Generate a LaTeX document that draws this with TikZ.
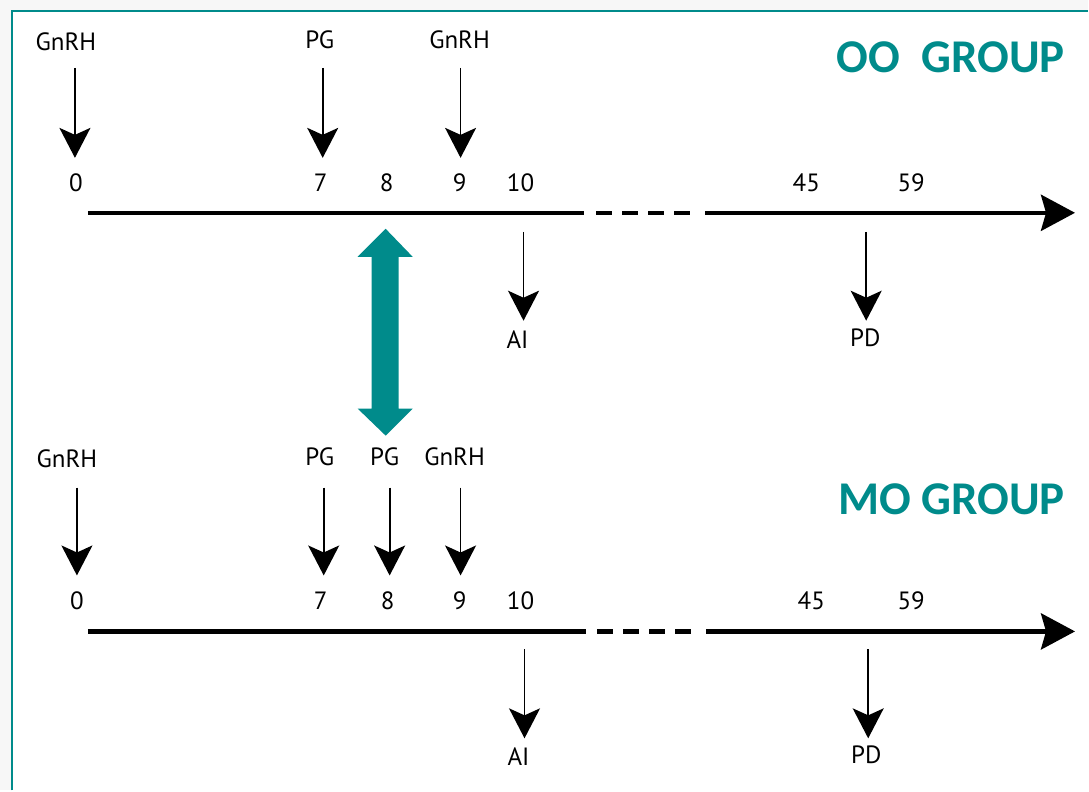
\documentclass[tikz,border=0pt]{standalone}
\usepackage{fontspec}
\setmainfont{PT Sans}
\newfontfamily\groupfont{Carlito}
\usetikzlibrary{arrows.meta}
\definecolor{teal1}{RGB}{0,139,139}
\definecolor{pagegray}{RGB}{247,247,247}
\begin{document}
\begin{tikzpicture}[x=1pt,y=-1pt,
  lbl/.style={inner sep=0pt,font=\fontsize{25}{28}\selectfont},
  grp/.style={inner sep=0pt,text=teal1,font=\groupfont\bfseries\fontsize{47}{52}\selectfont},
  dose/.style={line width=1.8pt,-{Stealth[length=30pt,width=31pt,inset=7pt]}},
  axis/.style={line width=4.5pt},
  axishead/.style={line width=4.5pt,-{Stealth[length=34pt,width=36pt,inset=5pt]}},
  gapdash/.style={line width=4.5pt,dash pattern=on 16pt off 10pt}]
% page and frame
\fill[pagegray] (0,0) rectangle (1089,791);
\fill[white] (12,11) rectangle (1089,791);
\draw[teal1,line width=2pt] (12,791) -- (12,11) -- (1089,11);
\useasboundingbox (0,0) rectangle (1089,791);

% ---------- OO group ----------
\node[grp,anchor=east] (ooTitle) at (1066,57) {OO\ \ GROUP};
\node[lbl] (oG0) at (66,42) {GnRH};
\node[lbl] (oP7) at (320,40) {PG};
\node[lbl] (oG9) at (460,40) {GnRH};
\foreach \n/\x in {0/76,7/321,8/387,9/460,10/521,45/807,59/912}
  \node[lbl] (oN\n) at (\x,183) {\n};
\coordinate (oA0s) at (75,68);  \coordinate (oA0e) at (75,158);
\coordinate (oA7s) at (323,68); \coordinate (oA7e) at (323,158);
\coordinate (oA9s) at (461,68); \coordinate (oA9e) at (461,158);
\draw[dose] (oA0s) -- (oA0e);
\draw[dose] (oA7s) -- (oA7e);
\draw[dose] (oA9s) -- (oA9e);
\coordinate (oL0) at (88,213);  \coordinate (oL1) at (585,213);
\coordinate (oL2) at (597,213); \coordinate (oL3) at (697,213);
\coordinate (oL4) at (706,213); \coordinate (oL5) at (1076,213);
\draw[axis] (oL0) -- (oL1);
\draw[gapdash] (oL2) -- (oL3);
\draw[axishead] (oL4) -- (oL5);
\node[lbl] (oAI) at (518,340) {AI};
\node[lbl] (oPD) at (866,338) {PD};
\coordinate (oAIs) at (524,232); \coordinate (oAIe) at (524,321);
\coordinate (oPDs) at (867,232); \coordinate (oPDe) at (867,321);
\draw[dose] (oAIs) -- (oAIe);
\draw[dose] (oPDs) -- (oPDe);

% ---------- link between groups ----------
\fill[teal1] (386,229) -- (413,257) -- (399,257) -- (399,409) -- (413,409)
  -- (386,436) -- (358,409) -- (372,409) -- (372,257) -- (358,257) -- cycle;

% ---------- MO group ----------
\node[grp,anchor=east] (moTitle) at (1066,500) {MO GROUP};
\node[lbl] (mG0) at (67,459) {GnRH};
\node[lbl] (mP7) at (320,457) {PG};
\node[lbl] (mP8) at (385,457) {PG};
\node[lbl] (mG9) at (455,457) {GnRH};
\foreach \n/\x in {0/77,7/321,8/388,9/460,10/521,45/812,59/912}
  \node[lbl] (mN\n) at (\x,601) {\n};
\coordinate (mA0s) at (77,488);  \coordinate (mA0e) at (77,576);
\coordinate (mA7s) at (324,488); \coordinate (mA7e) at (324,576);
\coordinate (mA8s) at (390,488); \coordinate (mA8e) at (390,576);
\coordinate (mA9s) at (461,488); \coordinate (mA9e) at (461,576);
\draw[dose] (mA0s) -- (mA0e);
\draw[dose] (mA7s) -- (mA7e);
\draw[dose] (mA8s) -- (mA8e);
\draw[dose] (mA9s) -- (mA9e);
\coordinate (mL0) at (88,632);  \coordinate (mL1) at (587,632);
\coordinate (mL2) at (598,632); \coordinate (mL3) at (697,632);
\coordinate (mL4) at (707,632); \coordinate (mL5) at (1076,632);
\draw[axis] (mL0) -- (mL1);
\draw[gapdash] (mL2) -- (mL3);
\draw[axishead] (mL4) -- (mL5);
\node[lbl] (mAI) at (519,757) {AI};
\node[lbl] (mPD) at (867,755) {PD};
\coordinate (mAIs) at (525,650); \coordinate (mAIe) at (525,739);
\coordinate (mPDs) at (869,650); \coordinate (mPDe) at (869,739);
\draw[dose] (mAIs) -- (mAIe);
\draw[dose] (mPDs) -- (mPDe);
\end{tikzpicture}
\end{document}
